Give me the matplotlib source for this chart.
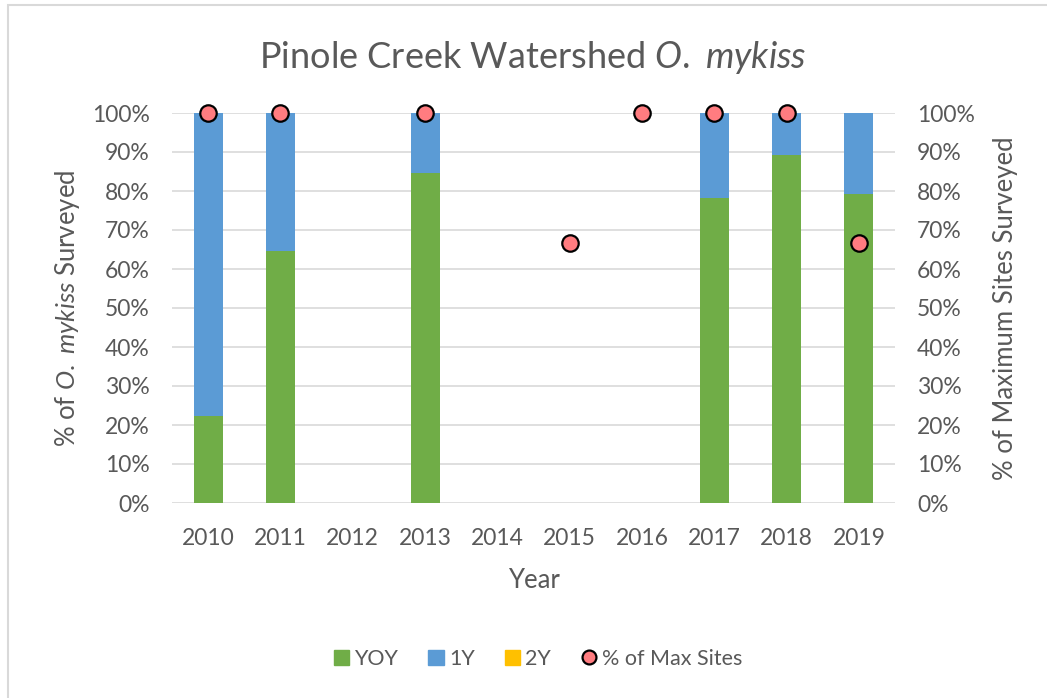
import numpy as np
import matplotlib.pyplot as plt
from matplotlib.patches import Rectangle
from matplotlib.lines import Line2D
from matplotlib.ticker import PercentFormatter

plt.rcParams['font.family'] = ['Lato', 'DejaVu Sans']
plt.rcParams['mathtext.fontset'] = 'custom'
plt.rcParams['mathtext.rm'] = 'Lato'
plt.rcParams['mathtext.it'] = 'Lato:italic'

years = ['2010', '2011', '2012', '2013', '2014', '2015', '2016', '2017', '2018', '2019']
yoy = [22.3, 64.7, 0, 84.6, 0, 0, 0, 78.1, 89.3, 79.3]
one_y = [77.7, 35.3, 0, 15.4, 0, 0, 0, 21.9, 10.7, 20.7]
two_y = [0, 0, 0, 0, 0, 0, 0, 0, 0, 0]
max_sites = [100, 100, np.nan, 100, np.nan, 66.7, 100, 100, 100, 66.7]

c_yoy = '#70AD47'
c_1y = '#5B9BD5'
c_2y = '#FFC000'
grey = '#595959'

fig = plt.figure(figsize=(10.47, 6.98), dpi=100)
# chart frame (runs off the right/bottom edge like the screenshot)
fig.patches.append(Rectangle((8 / 1047, -0.05), 1.1, 1 - 5 / 698 + 0.05,
                             transform=fig.transFigure, fill=False,
                             edgecolor='#D9D9D9', linewidth=1.5))

ax = fig.add_axes([172 / 1047, 1 - 503 / 698, 723 / 1047, 390 / 698])
x = np.arange(len(years))
ax.bar(x, yoy, 0.4, color=c_yoy, label='YOY', zorder=2)
ax.bar(x, one_y, 0.4, bottom=yoy, color=c_1y, label='1Y', zorder=2)
ax.bar(x, two_y, 0.4, bottom=np.add(yoy, one_y), color=c_2y, label='2Y', zorder=2)

ax.set_xlim(-0.5, len(years) - 0.5)
ax.set_ylim(0, 100)
ax.set_yticks(np.arange(0, 101, 10))
ax.yaxis.set_major_formatter(PercentFormatter(decimals=0))
ax.set_xticks(x)
ax.set_xticklabels(years)
ax.grid(axis='y', color='#D9D9D9', linewidth=1.2, zorder=0)
ax.set_axisbelow(True)
for s in ax.spines.values():
    s.set_visible(False)
ax.tick_params(length=0, labelsize=16.5, colors=grey, pad=16)
ax.tick_params(axis='x', pad=18)
ax.set_xlabel('Year', fontsize=18.5, color=grey, labelpad=14)
ax.set_ylabel('% of $\\it{O.}$ $\\it{mykiss}$ Surveyed', fontsize=18.5, color=grey, labelpad=7)

ax2 = ax.twinx()
ax2.set_ylim(0, 100)
ax2.set_yticks(np.arange(0, 101, 10))
ax2.yaxis.set_major_formatter(PercentFormatter(decimals=0))
for s in ax2.spines.values():
    s.set_visible(False)
ax2.tick_params(length=0, labelsize=16.5, colors=grey, pad=16)
ax2.scatter(x, max_sites, s=140, color='#FF7C80', edgecolor='black',
            linewidth=1.6, zorder=5, clip_on=False)
ax2.set_ylabel('% of Maximum Sites Surveyed', fontsize=18.5, color=grey, labelpad=13)

fig.text(533 / 1047, 1 - 57 / 698, 'Pinole Creek Watershed $\\it{O.}$ $\\it{mykiss}$',
         ha='center', va='center', fontsize=26, color=grey)

handles = [
    Rectangle((0, 0), 1, 1, color=c_yoy),
    Rectangle((0, 0), 1, 1, color=c_1y),
    Rectangle((0, 0), 1, 1, color=c_2y),
    Line2D([], [], linestyle='none', marker='o', markersize=10,
           markerfacecolor='#FF7C80', markeredgecolor='black', markeredgewidth=1.6),
]
fig.legend(handles, ['YOY', '1Y', '2Y', '% of Max Sites'], loc='center',
           bbox_to_anchor=(538 / 1047, 1 - 659 / 698), ncol=4, frameon=False,
           fontsize=15.5, labelcolor=grey, handlelength=0.7, handleheight=0.7,
           handletextpad=0.25, columnspacing=1.4)

fig.savefig('out.png', dpi=100, facecolor='white')
